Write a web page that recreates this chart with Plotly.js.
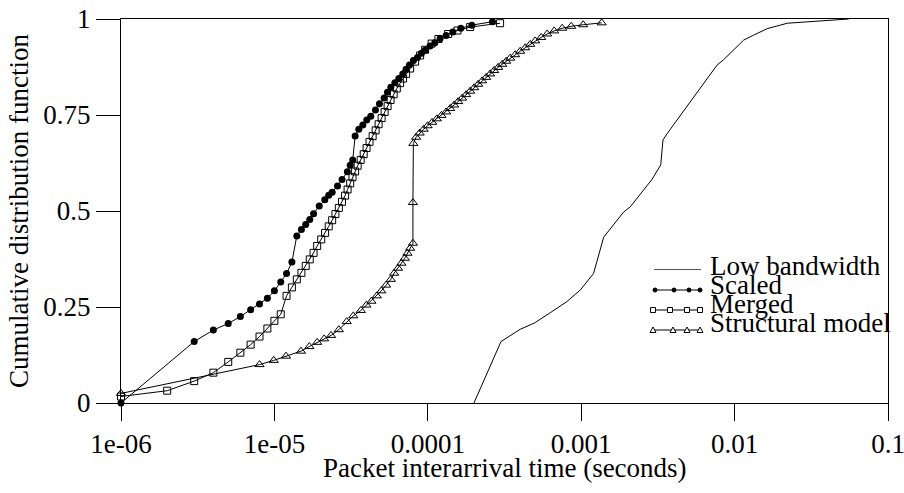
<!DOCTYPE html>
<html><head><meta charset="utf-8">
<script src="https://cdn.plot.ly/plotly-3.0.1.min.js"></script>
<style>html,body{margin:0;padding:0;background:#fff}#chart{width:904px;height:493px}</style>
</head><body><div id="chart"></div>
<script>
// ---- data (x in seconds) ----
const seriesNames = ['Low bandwidth', 'Scaled', 'Merged', 'Structural model'];
const xAxisTitle = 'Packet interarrival time (seconds)';
const yAxisTitle = 'Cumulative distribution function';

const lowBwX = [2.0e-4, 3.0e-4, 4.0e-4, 4.94e-4, 6.28e-4, 8.06e-4, 9.85e-4, 1.203e-3, 1.402e-3, 1.625e-3,
  1.887e-3, 2.09e-3, 2.5e-3, 2.891e-3, 3.30e-3, 3.349e-3, 3.413e-3, 3.641e-3, 4.427e-3, 5.145e-3,
  5.979e-3, 6.843e-3, 7.683e-3, 8.481e-3, 1.0106e-2, 1.1452e-2, 1.33e-2, 1.634e-2, 1.986e-2, 2.206e-2, 5.54e-2];
const lowBwY = [0, 0.16, 0.192, 0.208, 0.235, 0.264, 0.294, 0.337, 0.432, 0.464,
  0.497, 0.511, 0.55, 0.582, 0.62, 0.645, 0.685, 0.702, 0.748, 0.783,
  0.818, 0.85, 0.88, 0.894, 0.924, 0.945, 0.958, 0.975, 0.984, 0.989, 1.0];

const scaledX = [1e-6, 3e-6, 4e-6, 5e-6, 6e-6, 7e-6, 8e-6, 9e-6, 1.0e-5, 1.1e-5,
  1.2e-5, 1.3e-5, 1.4e-5, 1.5e-5, 1.6e-5, 1.7e-5, 1.8e-5, 1.96e-5, 2.13e-5, 2.26e-5,
  2.38e-5, 2.58e-5, 2.76e-5, 2.99e-5, 3.12e-5, 3.24e-5, 3.36e-5, 3.55e-5, 3.77e-5, 4.00e-5,
  4.25e-5, 4.56e-5, 4.84e-5, 5.19e-5, 5.46e-5, 5.74e-5, 6.10e-5, 6.47e-5, 6.87e-5, 7.22e-5,
  7.59e-5, 8.06e-5, 8.56e-5, 9.09e-5, 9.64e-5, 1.035e-4, 1.111e-4, 1.203e-4, 1.317e-4, 1.456e-4,
  1.642e-4, 1.937e-4, 2.64e-4];
const scaledY = [0, 0.16, 0.19, 0.207, 0.225, 0.243, 0.258, 0.273, 0.292, 0.315,
  0.337, 0.367, 0.435, 0.452, 0.465, 0.478, 0.493, 0.513, 0.529, 0.541,
  0.549, 0.565, 0.582, 0.602, 0.619, 0.633, 0.695, 0.713, 0.724, 0.737,
  0.747, 0.763, 0.779, 0.794, 0.809, 0.822, 0.834, 0.845, 0.857, 0.869,
  0.880, 0.892, 0.900, 0.911, 0.919, 0.930, 0.938, 0.949, 0.957, 0.966,
  0.976, 0.984, 0.993];

const mergedX = [1e-6, 2e-6, 3e-6, 4e-6, 5e-6, 6e-6, 7e-6, 8e-6, 9e-6, 1.0e-5,
  1.1e-5, 1.2e-5, 1.3e-5, 1.4e-5, 1.5e-5, 1.6e-5, 1.7e-5, 1.8e-5, 1.9e-5, 2.02e-5,
  2.14e-5, 2.26e-5, 2.38e-5, 2.50e-5, 2.63e-5, 2.76e-5, 2.89e-5, 3.00e-5, 3.12e-5, 3.23e-5,
  3.36e-5, 3.49e-5, 3.65e-5, 3.82e-5, 3.99e-5, 4.17e-5, 4.37e-5, 4.57e-5, 4.78e-5, 5.00e-5,
  5.23e-5, 5.47e-5, 5.72e-5, 5.99e-5, 6.28e-5, 6.60e-5, 6.90e-5, 7.22e-5, 7.67e-5, 8.27e-5,
  8.91e-5, 9.61e-5, 1.059e-4, 1.173e-4, 1.357e-4, 1.561e-4, 1.888e-4, 2.96e-4];
const mergedY = [0.017, 0.032, 0.057, 0.079, 0.107, 0.131, 0.152, 0.173, 0.194, 0.214,
  0.231, 0.279, 0.301, 0.322, 0.339, 0.357, 0.374, 0.391, 0.409, 0.426,
  0.443, 0.46, 0.476, 0.492, 0.508, 0.524, 0.54, 0.556, 0.572, 0.588,
  0.603, 0.618, 0.633, 0.648, 0.664, 0.68, 0.695, 0.71, 0.726, 0.742,
  0.758, 0.773, 0.789, 0.804, 0.819, 0.833, 0.845, 0.857, 0.871, 0.889,
  0.905, 0.92, 0.936, 0.948, 0.961, 0.970, 0.979, 0.989];

const structX = [1e-6, 8e-6, 9.9e-6, 1.19e-5, 1.49e-5, 1.69e-5, 1.90e-5, 2.11e-5, 2.34e-5,
  2.63e-5, 2.96e-5, 3.27e-5, 3.66e-5, 3.98e-5, 4.29e-5, 4.65e-5, 4.98e-5, 5.35e-5, 5.74e-5,
  6.03e-5, 6.40e-5, 6.73e-5, 7.08e-5, 7.37e-5, 7.67e-5, 8.0e-5, 8.0e-5, 8.05e-5, 8.39e-5,
  8.85e-5, 9.39e-5, 9.97e-5, 1.067e-4, 1.145e-4, 1.227e-4, 1.317e-4, 1.399e-4, 1.485e-4, 1.577e-4,
  1.674e-4, 1.778e-4, 1.888e-4, 2.005e-4, 2.129e-4, 2.261e-4, 2.401e-4, 2.549e-4, 2.707e-4, 2.875e-4,
  3.053e-4, 3.242e-4, 3.442e-4, 3.711e-4, 4.001e-4, 4.313e-4, 4.650e-4, 5.013e-4, 5.484e-4, 6.000e-4,
  6.666e-4, 7.516e-4, 8.605e-4, 1.030e-3, 1.360e-3];
const structY = [0.025, 0.10, 0.111, 0.122, 0.135, 0.147, 0.158, 0.167, 0.176,
  0.191, 0.212, 0.227, 0.241, 0.255, 0.265, 0.279, 0.292, 0.307, 0.322,
  0.338, 0.351, 0.364, 0.377, 0.39, 0.403, 0.416, 0.522, 0.676, 0.692,
  0.703, 0.713, 0.722, 0.731, 0.740, 0.749, 0.758, 0.767, 0.776, 0.785,
  0.794, 0.803, 0.812, 0.821, 0.830, 0.839, 0.848, 0.857, 0.866, 0.874,
  0.882, 0.890, 0.898, 0.907, 0.916, 0.925, 0.934, 0.943, 0.952, 0.961,
  0.969, 0.976, 0.981, 0.985, 0.99];

const xTickVals = [1e-6, 1e-5, 1e-4, 1e-3, 1e-2, 1e-1];
const xTickText = ['1e-06', '1e-05', '0.0001', '0.001', '0.01', '0.1'];
const yTickVals = [0, 0.25, 0.5, 0.75, 1];
const yTickText = ['0', '0.25', '0.5', '0.75', '1'];

// ---- styles ----
const FONT = '"Liberation Serif", "Times New Roman", Times, serif';
const FS = 27;
const M = {l: 121, r: 16, t: 19, b: 90};
const PW = 904 - M.l - M.r, PH = 493 - M.t - M.b;
const px2x = p => (p - M.l) / PW;
const px2y = p => (493 - M.b - p) / PH;

const lineStyle = {color: '#000', width: 1};
const traces = [
  {x: lowBwX, y: lowBwY, mode: 'lines', line: lineStyle},
  {x: scaledX, y: scaledY, mode: 'lines+markers', line: lineStyle,
   marker: {symbol: 'circle', size: 7, color: '#000'}},
  {x: mergedX, y: mergedY, mode: 'lines+markers', line: lineStyle,
   marker: {symbol: 'square-open', size: 7, color: '#000', line: {width: 1}}},
  {x: structX, y: structY, mode: 'lines+markers', line: lineStyle,
   marker: {symbol: 'triangle-up-open', size: 8, color: '#000', line: {width: 1}}}
].map((t, i) => Object.assign(t, {type: 'scatter', name: seriesNames[i], cliponaxis: false, showlegend: false}));

// ---- custom legend (gnuplot style key) ----
const keyRowsY = [269.5, 290, 310, 330];
const keyTextBase = [275, 294, 313, 332];
const keyLineX = [654, 701];
const keyMarkX = [[], [655, 674, 689, 700], [653, 670, 687, 700], [653, 673, 687, 700]];
const shapes = [], annotations = [];
seriesNames.forEach((nm, i) => {
  shapes.push({type: 'line', xref: 'paper', yref: 'paper',
    x0: px2x(keyLineX[0]), x1: px2x(keyLineX[1]), y0: px2y(keyRowsY[i]), y1: px2y(keyRowsY[i]),
    line: {color: i === 0 ? '#555' : '#000', width: 1}});
  keyMarkX[i].forEach(mx => {
    const base = {xref: 'paper', yref: 'paper', xsizemode: 'pixel', ysizemode: 'pixel',
      xanchor: px2x(mx), yanchor: px2y(keyRowsY[i])};
    if (i === 1) shapes.push(Object.assign(base, {type: 'circle', x0: -2, x1: 2, y0: -2, y1: 2,
      fillcolor: '#000', line: {color: '#000', width: 1}}));
    if (i === 2) shapes.push(Object.assign(base, {type: 'rect', x0: -2.5, x1: 2.5, y0: -2.5, y1: 2.5,
      fillcolor: '#fff', line: {color: '#000', width: 1}}));
    if (i === 3) shapes.push(Object.assign(base, {type: 'path', path: 'M-3,-2.5 L3,-2.5 L0,3 Z',
      fillcolor: '#fff', line: {color: '#000', width: 1}}));
  });
  annotations.push({xref: 'paper', yref: 'paper', x: px2x(708), y: px2y(keyTextBase[i] - 9),
    xanchor: 'left', yanchor: 'middle', showarrow: false, text: nm,
    font: {family: FONT, size: FS, color: '#000'}});
});
// x-axis title placed as text below the tick labels
annotations.push({xref: 'paper', yref: 'paper', x: 0.5, y: px2y(468),
  xanchor: 'center', yanchor: 'middle', showarrow: false, text: xAxisTitle,
  font: {family: FONT, size: FS, color: '#000'}});

const layout = {
  width: 904, height: 493, margin: M,
  paper_bgcolor: '#fff', plot_bgcolor: '#fff',
  font: {family: FONT, size: FS, color: '#000'},
  showlegend: false,
  xaxis: {type: 'log', range: [-6, -0.99999], tickvals: xTickVals, ticktext: xTickText,
    ticks: 'outside', ticklen: 17, tickwidth: 1, tickcolor: '#000',
    showline: true, linecolor: '#000', linewidth: 1, mirror: true,
    showgrid: false, zeroline: false, automargin: false, ticklabeloverflow: 'allow',
    tickfont: {family: FONT, size: FS}},
  yaxis: {range: [0, 1], tickvals: yTickVals, ticktext: yTickText,
    ticks: 'outside', ticklen: 24, tickwidth: 1, tickcolor: '#000',
    showline: true, linecolor: '#000', linewidth: 1, mirror: true,
    showgrid: false, zeroline: false, automargin: false,
    tickfont: {family: FONT, size: FS},
    title: {text: yAxisTitle, font: {family: FONT, size: FS}, standoff: 6}},
  shapes: shapes, annotations: annotations
};

Plotly.newPlot('chart', traces, layout, {staticPlot: true, displayModeBar: false});
</script>
</body></html>
